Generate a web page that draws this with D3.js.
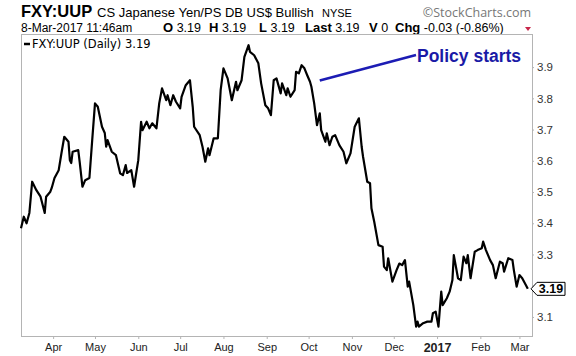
<!DOCTYPE html>
<html><head><meta charset="utf-8">
<script src="https://cdn.jsdelivr.net/npm/d3@7"></script>
<style>
html,body{margin:0;padding:0;background:#fff;}
svg{display:block;}
</style></head>
<body>
<svg id="c" width="576" height="356"></svg>
<script>
const dates = ["2016-03-09","2016-03-11","2016-03-13","2016-03-15","2016-03-17","2016-03-20","2016-03-23","2016-03-26","2016-03-27","2016-03-30","2016-03-31",
"2016-04-02","2016-04-05","2016-04-07","2016-04-09","2016-04-12","2016-04-13","2016-04-14","2016-04-15","2016-04-19","2016-04-20","2016-04-22","2016-04-24","2016-04-27","2016-04-29",
"2016-05-01","2016-05-03","2016-05-06","2016-05-08","2016-05-09","2016-05-10","2016-05-13","2016-05-16","2016-05-19","2016-05-21","2016-05-23","2016-05-24","2016-05-27","2016-05-29",
"2016-06-01","2016-06-03","2016-06-04","2016-06-07","2016-06-09","2016-06-11","2016-06-14","2016-06-16","2016-06-18","2016-06-21","2016-06-22","2016-06-24","2016-06-26","2016-06-28",
"2016-07-01","2016-07-02","2016-07-05","2016-07-08","2016-07-10","2016-07-11","2016-07-15","2016-07-17","2016-07-19","2016-07-21","2016-07-22","2016-07-25","2016-07-28","2016-07-30",
"2016-08-01","2016-08-04","2016-08-07","2016-08-10","2016-08-11","2016-08-14","2016-08-16","2016-08-19","2016-08-20","2016-08-23","2016-08-26","2016-08-28","2016-08-31",
"2016-09-02","2016-09-04","2016-09-06","2016-09-08","2016-09-11","2016-09-12","2016-09-15","2016-09-16","2016-09-18","2016-09-21","2016-09-22","2016-09-24","2016-09-26","2016-09-28","2016-09-30",
"2016-10-02","2016-10-03","2016-10-05","2016-10-07","2016-10-09","2016-10-10","2016-10-13","2016-10-14","2016-10-16","2016-10-18","2016-10-20","2016-10-23","2016-10-26","2016-10-28","2016-10-31",
"2016-11-03","2016-11-06","2016-11-08","2016-11-09","2016-11-12","2016-11-14","2016-11-15","2016-11-17","2016-11-20","2016-11-23","2016-11-24","2016-11-26","2016-11-27","2016-11-30",
"2016-12-03","2016-12-05","2016-12-07","2016-12-09","2016-12-11","2016-12-12","2016-12-15","2016-12-17","2016-12-18","2016-12-19","2016-12-22","2016-12-25","2016-12-28","2016-12-29","2016-12-31",
"2017-01-02","2017-01-04","2017-01-05","2017-01-08","2017-01-10","2017-01-12","2017-01-13","2017-01-16","2017-01-18","2017-01-20","2017-01-22","2017-01-23","2017-01-25","2017-01-28","2017-01-30",
"2017-02-02","2017-02-03","2017-02-05","2017-02-08","2017-02-10","2017-02-12","2017-02-15","2017-02-17","2017-02-18","2017-02-21","2017-02-24","2017-02-25","2017-02-27",
"2017-03-01","2017-03-03","2017-03-07"];
const values = [3.384,3.421,3.400,3.433,3.533,3.506,3.485,3.433,3.485,3.501,3.513,
3.545,3.570,3.625,3.677,3.661,3.602,3.593,3.629,3.634,3.597,3.517,3.538,3.545,3.666,
3.784,3.773,3.709,3.689,3.645,3.666,3.629,3.618,3.560,3.554,3.586,3.561,3.570,3.517,
3.602,3.725,3.698,3.725,3.704,3.720,3.704,3.784,3.832,3.794,3.810,3.778,3.810,3.789,
3.768,3.805,3.842,3.858,3.773,3.709,3.682,3.645,3.597,3.640,3.618,3.672,3.672,3.826,
3.896,3.864,3.794,3.853,3.826,3.858,3.933,3.970,3.949,3.938,3.912,3.848,3.778,
3.768,3.746,3.858,3.864,3.816,3.848,3.810,3.832,3.805,3.826,3.885,3.880,3.906,3.896,3.874,
3.853,3.837,3.784,3.714,3.752,3.698,3.661,3.688,3.650,3.677,3.682,3.650,3.629,3.592,3.624,
3.709,3.736,3.645,3.613,3.533,3.528,3.448,3.405,3.330,3.325,3.261,3.250,3.288,3.213,
3.250,3.271,3.266,3.282,3.197,3.213,3.138,3.069,3.085,3.069,3.080,3.085,3.085,3.112,3.117,
3.069,3.181,3.138,3.160,3.181,3.218,3.298,3.224,3.218,3.293,3.272,3.298,3.224,3.309,3.314,
3.320,3.341,3.314,3.282,3.266,3.224,3.277,3.272,3.245,3.288,3.282,3.250,3.197,
3.234,3.224,3.190];
const yTicks = [3.1,3.2,3.3,3.4,3.5,3.6,3.7,3.8,3.9];
const monthTicks = ["2016-04-01","2016-05-01","2016-06-01","2016-07-01","2016-08-01","2016-09-01","2016-10-01","2016-11-01","2016-12-01","2017-01-01","2017-02-01","2017-03-01"];
const monthLabels = ["Apr","May","Jun","Jul","Aug","Sep","Oct","Nov","Dec","2017","Feb","Mar"];
const lastValue = 3.19;

const parse = d3.timeParse("%Y-%m-%d");
const data = dates.map((d,i)=>({date:parse(d), v:values[i]}));

const svg = d3.select("#c");
const L=21, R=532, T=34, B=336;
const x = d3.scaleTime().domain([parse("2016-03-09"), parse("2017-03-10")]).range([L,R]);
const y = d3.scaleLinear().domain([3.039, 4.006]).range([B,T]);
const AR = "Liberation Sans, Arial, sans-serif";

// Header line 1
svg.append("text").attr("x",21).attr("y",17).attr("font-family",AR).attr("font-weight","bold").attr("font-size","16.5px").attr("fill","#000").text("FXY:UUP");
svg.append("text").attr("x",97).attr("y",17).attr("font-family",AR).attr("font-size","13px").attr("fill","#000").text("CS Japanese Yen/PS DB US$ Bullish");
svg.append("text").attr("x",322).attr("y",17).attr("font-family",AR).attr("font-size","11px").attr("fill","#000").text("NYSE");
svg.append("text").attr("x",531).attr("y",17).attr("text-anchor","end").attr("font-family","Open Sans, sans-serif").attr("font-size","12.5px").attr("fill","#777").text("\u00A9StockCharts.com");

// Header line 2
svg.append("text").attr("x",21).attr("y",32).attr("font-family",AR).attr("font-size","12px").attr("fill","#000").text("8-Mar-2017 11:46am");
const stats = [["O","3.19",163],["H","3.19",209],["L","3.19",259],["Last","3.19",305],["V","0",369],["Chg","-0.03 (-0.86%)",395]];
stats.forEach(s=>{
  const t = svg.append("text").attr("x",s[2]).attr("y",32).attr("font-family",AR).attr("fill","#000");
  t.append("tspan").attr("font-weight","bold").attr("font-size","13px").text(s[0]);
  t.append("tspan").attr("font-size","12.5px").attr("dx",3.5).text(s[1]);
});
svg.append("path").attr("d","M525,27 L531,27 L528,31 Z").attr("fill","#c8264a");

// Frame
svg.append("rect").attr("x",L).attr("y",T).attr("width",R-L).attr("height",B-T).attr("fill","#fff").attr("stroke","#b4b4b4").attr("stroke-width",1).attr("shape-rendering","crispEdges");

// X axis
const xAxis = d3.axisBottom(x).tickValues(monthTicks.map(parse)).tickSize(3).tickPadding(4)
  .tickFormat((d,i)=>monthLabels[i]);
const gx = svg.append("g").attr("transform",`translate(0,${B})`).call(xAxis);
gx.select(".domain").remove();
gx.selectAll(".tick line").attr("stroke","#b4b4b4");
gx.selectAll(".tick text").attr("font-family",AR).attr("fill","#222")
  .attr("font-weight",(d,i)=>monthLabels[i]==="2017"?"bold":"normal")
  .style("font-size",(d,i)=>monthLabels[i]==="2017"?"12.5px":"11px");

// Y axis (right)
const yAxis = d3.axisRight(y).tickValues(yTicks).tickSize(2).tickPadding(3).tickFormat(d3.format(".1f"));
const gy = svg.append("g").attr("transform",`translate(${R},0)`).call(yAxis);
gy.select(".domain").remove();
gy.selectAll(".tick line").attr("stroke","#b4b4b4");
gy.selectAll(".tick text").attr("font-family",AR).attr("font-size","11.5px").attr("fill","#333");

// Legend
svg.append("line").attr("x1",24).attr("x2",30).attr("y1",44).attr("y2",44).attr("stroke","#000").attr("stroke-width",2.5);
svg.append("text").attr("x",32).attr("y",48).attr("font-family","DejaVu Sans, Verdana, sans-serif").attr("font-size","11.5px").attr("fill","#000").text("FXY:UUP (Daily) " + lastValue.toFixed(2));

// Price line
const line = d3.line().x(d=>x(d.date)).y(d=>y(d.v)).curve(d3.curveLinear);
svg.append("path").datum(data).attr("d",line).attr("fill","none").attr("stroke","#000").attr("stroke-width",2.2).attr("stroke-linejoin","round");

// Last value tag
const ty = y(lastValue);
svg.append("path").attr("d",`M${R-1},${ty} L${R+5},${ty-6.5} L${R+33},${ty-6.5} L${R+33},${ty+6.5} L${R+5},${ty+6.5} Z`)
  .attr("fill","#fff").attr("stroke","#000").attr("stroke-width",1);
svg.append("text").attr("x",R+19).attr("y",ty+4.5).attr("text-anchor","middle").attr("font-family",AR)
  .attr("font-size","12.5px").attr("font-weight","bold").attr("fill","#000").text(lastValue.toFixed(2));

// Annotation
const annDate = parse("2016-10-09"), annV = 3.857;
svg.append("line").attr("x1",x(annDate)).attr("y1",y(annV)).attr("x2",416).attr("y2",55).attr("stroke","#1c1cb4").attr("stroke-width",2.5);
svg.append("text").attr("x",417).attr("y",62).attr("font-family",AR).attr("font-size","17.5px").attr("font-weight","bold").attr("fill","#1a1aa6").text("Policy starts");
</script>
</body></html>
